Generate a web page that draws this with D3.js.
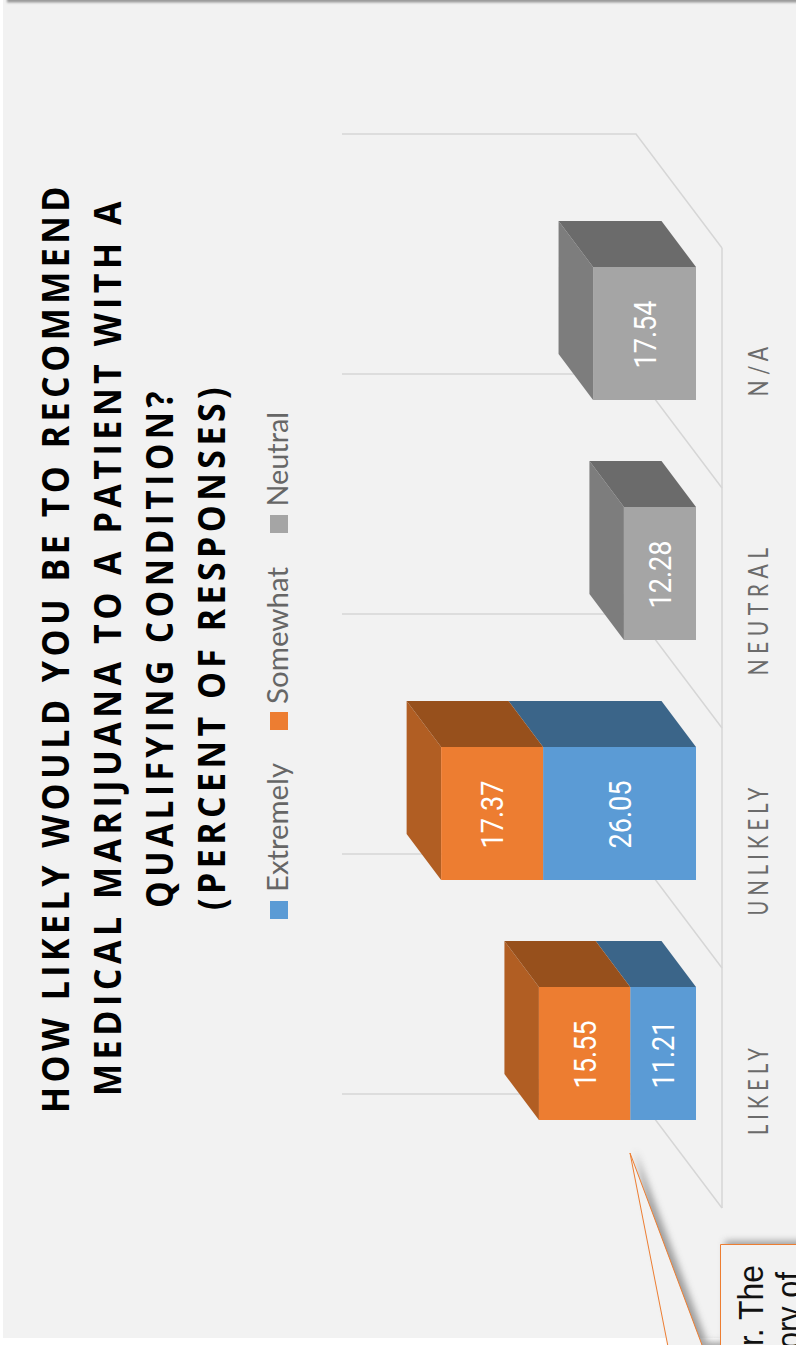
<!DOCTYPE html>
<html>
<head>
<meta charset="utf-8">
<script src="https://cdn.jsdelivr.net/npm/d3@7"></script>
<style>
html,body{margin:0;padding:0;background:#fff;overflow:hidden}
svg{display:block}
</style>
</head>
<body>
<div id="chart"></div>
<script>
const categories = ["Likely", "Unlikely", "Neutral", "N/A"];
const seriesNames = ["Extremely", "Somewhat", "Neutral"];
const extremely = [11.21, 26.05, 0, 0];
const somewhat = [15.55, 17.37, 0, 0];
const neutral = [0, 0, 12.28, 17.54];
const titleLines = [
  "HOW LIKELY WOULD YOU BE TO RECOMMEND",
  "MEDICAL MARIJUANA TO A PATIENT WITH A",
  "QUALIFYING CONDITION?",
  "(PERCENT OF RESPONSES)"
];
const calloutLines = ["r. The", "ory of"];
const seriesColors = {Extremely: "#5b9bd5", Somewhat: "#ed7d31", Neutral: "#a5a5a5"};
const sideColors = {Extremely: "#4a7eae", Somewhat: "#b15e23", Neutral: "#7d7d7d"};
const topColors = {Extremely: "#3b6589", Somewhat: "#97501c", Neutral: "#6b6b6b"};

const W = 796, H = 1345;
const svg = d3.select("#chart").append("svg").attr("width", W).attr("height", H);
const defs = svg.append("defs");
const f1 = defs.append("filter").attr("id", "soft").attr("x", "-30%").attr("y", "-30%").attr("width", "160%").attr("height", "160%");
f1.append("feGaussianBlur").attr("stdDeviation", 3.5);
const f2 = defs.append("filter").attr("id", "edge").attr("x", "-5%").attr("y", "-300%").attr("width", "110%").attr("height", "700%");
f2.append("feGaussianBlur").attr("stdDeviation", 1);

// Panel and the dark strip along its top edge
svg.append("rect").attr("width", W).attr("height", H).attr("fill", "#fff");
svg.append("rect").attr("x", 3).attr("y", 0).attr("width", W).attr("height", 1338).attr("fill", "#f2f2f2");
svg.append("rect").attr("x", 7).attr("y", -2).attr("width", W).attr("height", 4.5).attr("fill", "#999").attr("filter", "url(#edge)");

// The chart reads sideways: the value axis runs right-to-left, categories bottom-to-top
const depthX = -34.5, depthY = -46;
const baseX = 696;
const value = d3.scaleLinear().domain([0, 50]).range([baseX, baseX - 293.5]);
const band = d3.scaleBand().domain(categories).range([1173.5, 213.5]);
const barWidth = 133;
const barY = c => band(c) + (band.step() - barWidth) / 2;

// Back wall gridlines and floor edges
const g = svg.append("g").attr("fill", "none").attr("stroke", "#d6d6d6").attr("stroke-width", 1.5);
const wallBack = 636, floorFront = 722;
const gridYs = d3.range(0, 5).map(i => 1094 - i * 240);
g.selectAll("path.grid").data(gridYs).join("path").attr("class", "grid")
  .attr("d", y => d3.line()([[342, y], [wallBack, y], [floorFront, y + 114]]));
g.append("line").attr("x1", floorFront).attr("x2", floorFront).attr("y1", gridYs[4] + 114).attr("y2", gridYs[0] + 114);

// Stacked 3D columns
const stacked = categories.map((c, i) => {
  let v0 = 0;
  return seriesNames.map(name => {
    const v = {Extremely: extremely, Somewhat: somewhat, Neutral: neutral}[name][i];
    const seg = {c, name, v, v0, v1: v0 + v};
    v0 += v;
    return seg;
  }).filter(s => s.v > 0);
});
const poly = pts => "M" + pts.map(p => p.join(",")).join("L") + "Z";
const bars = svg.append("g");
stacked.forEach(segs => {
  const col = bars.append("g");
  const y0 = barY(segs[0].c), y1 = y0 + barWidth;
  // Far-end cap of the stack
  const last = segs[segs.length - 1];
  const end = value(last.v1);
  col.append("path").attr("fill", sideColors[last.name])
    .attr("d", poly([[end, y0], [end + depthX, y0 + depthY], [end + depthX, y1 + depthY], [end, y1]]));
  segs.forEach(s => {
    const a = value(s.v0), b = value(s.v1);
    col.append("path").attr("fill", topColors[s.name])
      .attr("d", poly([[a, y0], [b, y0], [b + depthX, y0 + depthY], [a + depthX, y0 + depthY]]));
    col.append("rect").attr("x", b).attr("y", y0).attr("width", a - b).attr("height", barWidth).attr("fill", seriesColors[s.name]);
    col.append("text")
      .attr("transform", `translate(${(a + b) / 2 + 11},${y0 + barWidth / 2 + 1}) rotate(-90)`)
      .attr("text-anchor", "middle")
      .attr("textLength", 68).attr("lengthAdjust", "spacingAndGlyphs")
      .attr("font-family", "Roboto, sans-serif").attr("font-weight", 400).attr("font-size", 31).attr("fill", "#fff")
      .text(s.v.toFixed(2));
  });
});

// Category labels sit under the front edge of the floor
const categorySpan = {Likely: 92, Unlikely: 133, Neutral: 133, "N/A": 55};
svg.append("g").selectAll("text").data(categories).join("text")
  .attr("transform", c => `translate(768,${barY(c) + barWidth / 2 + 35.5}) rotate(-90)`)
  .attr("text-anchor", "middle")
  .attr("textLength", c => categorySpan[c]).attr("lengthAdjust", "spacingAndGlyphs")
  .attr("font-family", "Lato, sans-serif").attr("font-size", 27).attr("letter-spacing", 7).attr("fill", "#6b6b6b")
  .text(c => c.toUpperCase());

// Title block, each line fitted to its measured run
const titleBase = [69.3, 121, 173, 225];
const titleStart = [1113, 1096, 908, 910];
const titleSpan = [931, 899, 521, 527];
svg.append("g").selectAll("text").data(titleLines).join("text")
  .attr("transform", (d, i) => `translate(${titleBase[i]},${titleStart[i]}) rotate(-90)`)
  .attr("textLength", (d, i) => titleSpan[i]).attr("lengthAdjust", "spacingAndGlyphs")
  .attr("font-family", "Open Sans, sans-serif").attr("font-size", 38).attr("font-weight", 700).attr("letter-spacing", 5).attr("fill", "#000")
  .text(d => d);

// Legend
const legendSwatchBottom = {Extremely: 919, Somewhat: 730, Neutral: 533};
const legendTextStart = {Extremely: 892, Somewhat: 704, Neutral: 506.5};
const legendSpan = {Extremely: 129, Somewhat: 137, Neutral: 94.5};
const legend = svg.append("g").selectAll("g").data(seriesNames).join("g");
legend.append("rect").attr("x", 270).attr("y", d => legendSwatchBottom[d] - 18).attr("width", 18).attr("height", 18).attr("fill", d => seriesColors[d]);
legend.append("text")
  .attr("transform", d => `translate(288,${legendTextStart[d]}) rotate(-90)`)
  .attr("textLength", d => legendSpan[d]).attr("lengthAdjust", "spacingAndGlyphs")
  .attr("font-family", "Lato, sans-serif").attr("font-size", 29).attr("fill", "#666")
  .text(d => d);

// Callout pointing at the first column, running off the page
const tip = [630, 1153];
const calloutShape = d3.line()([[667.7, 1345], tip, [702, 1345], [720, 1345], [720, 1244], [810, 1244], [810, 1360], [667.7, 1360]]) + "Z";
svg.append("path").attr("filter", "url(#soft)").attr("fill", "#666").attr("opacity", 0.6)
  .attr("transform", "translate(5,-3)").attr("d", calloutShape);
svg.append("path").attr("fill", "#f2f2f2").attr("d", calloutShape);
svg.append("path").attr("fill", "none").attr("stroke", "#ed7d31").attr("stroke-width", 1)
  .attr("d", d3.line()([[667.7, 1345], tip, [702, 1345]]));
svg.append("path").attr("fill", "none").attr("stroke", "#ed7d31").attr("stroke-width", 1)
  .attr("d", d3.line()([[720.5, 1345], [720.5, 1244.5], [800, 1244.5]]));
const calloutBase = [763, 801], calloutStart = [1346, 1349], calloutSpan = [81, 77];
svg.append("g").selectAll("text").data(calloutLines).join("text")
  .attr("transform", (d, i) => `translate(${calloutBase[i]},${calloutStart[i]}) rotate(-90)`)
  .attr("textLength", (d, i) => calloutSpan[i]).attr("lengthAdjust", "spacingAndGlyphs")
  .attr("font-family", "Liberation Sans, sans-serif").attr("font-size", 35).attr("fill", "#111")
  .text(d => d);
</script>
</body>
</html>
